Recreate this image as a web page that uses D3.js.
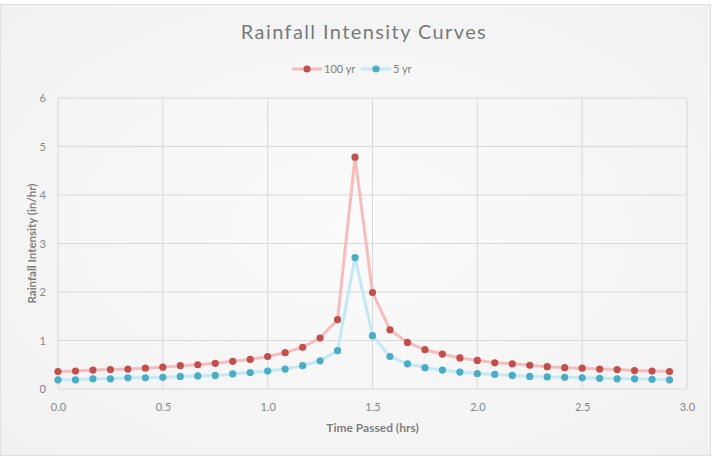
<!DOCTYPE html>
<html>
<head>
<meta charset="utf-8">
<script src="https://cdn.jsdelivr.net/npm/d3@7"></script>
<style>
  body { margin: 0; background: #fff; }
  text { font-family: Lato, "Open Sans", sans-serif; }
</style>
</head>
<body>
<div id="chart"></div>
<script>
const width = 714;
const height = 459;

// time in hours, one reading every 5 minutes
const times = d3.range(36).map(k => k / 12);
const rain100 = [0.36, 0.37, 0.39, 0.40, 0.41, 0.43, 0.45, 0.48, 0.50, 0.53, 0.57, 0.61,
    0.67, 0.75, 0.86, 1.05, 1.43, 4.78, 1.99, 1.22, 0.96, 0.81, 0.72, 0.64,
    0.59, 0.54, 0.52, 0.49, 0.46, 0.44, 0.43, 0.41, 0.40, 0.38, 0.37, 0.36];
const rain5 = [0.19, 0.19, 0.21, 0.21, 0.23, 0.23, 0.24, 0.26, 0.27, 0.28, 0.31, 0.34,
    0.37, 0.41, 0.48, 0.58, 0.79, 2.71, 1.10, 0.67, 0.52, 0.44, 0.39, 0.35,
    0.32, 0.30, 0.28, 0.26, 0.25, 0.24, 0.23, 0.22, 0.21, 0.21, 0.20, 0.19];
const xTicks = [0, 0.5, 1, 1.5, 2, 2.5, 3];
const yTicks = [0, 1, 2, 3, 4, 5, 6];

const series = [
    { name: "100 yr", values: rain100, line: "#f7bcbc", dot: "#c0504d" },
    { name: "5 yr", values: rain5, line: "#c3e8f6", dot: "#4bacc6" }
];

const margin = { top: 98, right: 27, bottom: 70, left: 58 };

const svg = d3.select("#chart").append("svg")
    .attr("width", width)
    .attr("height", height);

const defs = svg.append("defs");
const grad = defs.append("radialGradient").attr("id", "bg")
    .attr("cx", "50%").attr("cy", "50%").attr("r", "70%");
grad.append("stop").attr("offset", "0%").attr("stop-color", "#fbfbfb");
grad.append("stop").attr("offset", "100%").attr("stop-color", "#f1f1f1");

svg.append("rect")
    .attr("x", 0.5).attr("y", 4.5)
    .attr("width", 710).attr("height", 451)
    .attr("fill", "url(#bg)")
    .attr("stroke", "#e0e0e0");

const x = d3.scaleLinear().domain([0, 3]).range([margin.left, width - margin.right]);
const y = d3.scaleLinear().domain([0, 6]).range([height - margin.bottom, margin.top]);

// gridlines
svg.append("g")
    .selectAll("line")
    .data(yTicks)
    .join("line")
    .attr("x1", x(0)).attr("x2", x(3))
    .attr("y1", d => y(d)).attr("y2", d => y(d))
    .attr("stroke", "#d9d9d9");

svg.append("g")
    .selectAll("line")
    .data(xTicks)
    .join("line")
    .attr("x1", d => x(d)).attr("x2", d => x(d))
    .attr("y1", y(0)).attr("y2", y(6))
    .attr("stroke", "#d9d9d9");

// axes
const xAxis = svg.append("g")
    .attr("transform", `translate(0,${y(0)})`)
    .call(d3.axisBottom(x).tickValues(xTicks).tickFormat(d3.format(".1f")).tickSize(0).tickPadding(14));
const yAxis = svg.append("g")
    .attr("transform", `translate(${x(0)},0)`)
    .call(d3.axisLeft(y).tickValues(yTicks).tickFormat(d3.format("d")).tickSize(0).tickPadding(12));
[xAxis, yAxis].forEach(g => {
    g.select(".domain").remove();
    g.selectAll("text").attr("fill", "#868686").style("font-size", "11px")
        .style("font-family", "Lato, 'Open Sans', sans-serif");
});

svg.append("text")
    .attr("x", (x(0) + x(3)) / 2)
    .attr("y", 432)
    .attr("text-anchor", "middle")
    .attr("fill", "#7f7f7f")
    .style("font-size", "12px")
    .style("font-weight", "bold")
    .text("Time Passed (hrs)");

svg.append("text")
    .attr("transform", `translate(36,${(y(0) + y(6)) / 2}) rotate(-90)`)
    .attr("text-anchor", "middle")
    .attr("fill", "#7f7f7f")
    .style("font-size", "11.5px")
    .style("font-weight", "bold")
    .text("Rainfall Intensity (in/hr)");

svg.append("text")
    .attr("x", 364)
    .attr("y", 39)
    .attr("text-anchor", "middle")
    .attr("fill", "#7a7a7a")
    .style("font-size", "20px")
    .style("letter-spacing", "1.4px")
    .text("Rainfall Intensity Curves");

// lines and markers
const line = d3.line()
    .x((d, i) => x(times[i]))
    .y(d => y(d));

series.forEach(s => {
    svg.append("path")
        .datum(s.values)
        .attr("fill", "none")
        .attr("stroke", s.line)
        .attr("stroke-width", 3)
        .attr("stroke-linejoin", "round")
        .attr("d", line);
    svg.append("g")
        .selectAll("circle")
        .data(s.values)
        .join("circle")
        .attr("cx", (d, i) => x(times[i]))
        .attr("cy", d => y(d))
        .attr("r", 3.6)
        .attr("fill", s.dot);
});

// legend
const legendItems = [
    { s: series[0], x: 292 },
    { s: series[1], x: 361 }
];
const legend = svg.append("g");
legendItems.forEach(({ s, x: lx }) => {
    const g = legend.append("g").attr("transform", `translate(${lx},69)`);
    g.append("line").attr("x1", 0).attr("x2", 30)
        .attr("stroke", s.line).attr("stroke-width", 3);
    g.append("circle").attr("cx", 15).attr("r", 3.6).attr("fill", s.dot);
    g.append("text").attr("x", 32).attr("y", 4)
        .attr("fill", "#7f7f7f")
        .style("font-size", "11px")
        .text(s.name);
});
</script>
</body>
</html>
